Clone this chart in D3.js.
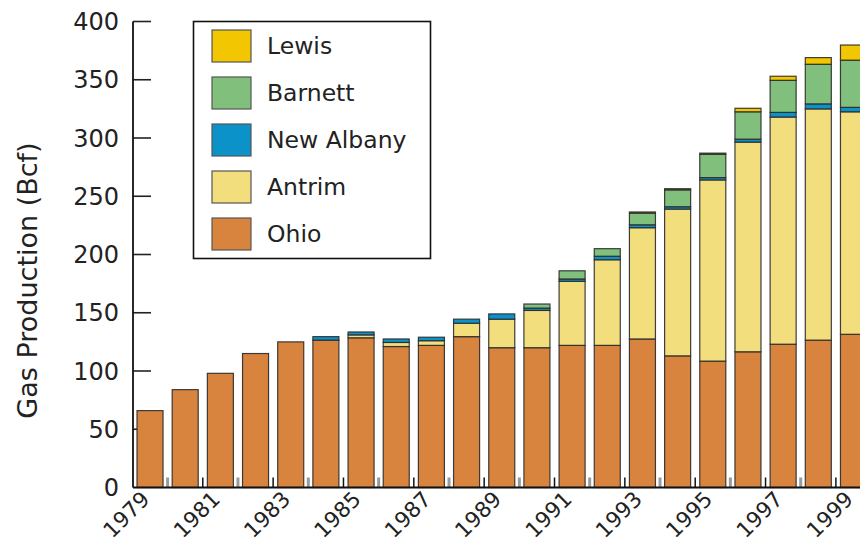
<!DOCTYPE html>
<html><head><meta charset="utf-8">
<script src="https://cdn.jsdelivr.net/npm/d3@7"></script>
<style>
html,body{margin:0;padding:0;background:#fff;}
svg{display:block;font-family:"DejaVu Sans",sans-serif;}
</style></head>
<body>
<svg id="chart" width="860" height="546"></svg>
<script>
const years = [1979,1980,1981,1982,1983,1984,1985,1986,1987,1988,1989,1990,1991,1992,1993,1994,1995,1996,1997,1998,1999];
const ohio      = [66, 84, 98, 115, 125, 126.5, 128.5, 121, 122, 129.5, 120, 120, 122, 122, 127.5, 113, 108.5, 116.5, 123, 126.5, 131.5];
const antrim    = [0, 0, 0, 0, 0, 0, 2.5, 3.5, 4, 11.5, 24.5, 32, 55, 73.5, 95.5, 126, 155.5, 180, 195, 198.5, 191];
const newAlbany = [0, 0, 0, 0, 0, 3, 2.5, 3, 3, 3.5, 4.5, 2, 2, 3, 2.5, 2, 2, 2.5, 4, 4.3, 3.8];
const barnett   = [0, 0, 0, 0, 0, 0, 0, 0, 0, 0, 0, 3.5, 7, 6.5, 10, 14.5, 20, 23.5, 27.5, 34, 40.5];
const lewis     = [0, 0, 0, 0, 0, 0, 0, 0, 0, 0, 0, 0, 0, 0, 1, 1, 1, 3, 3.5, 5.7, 13];
const seriesNames = ["Ohio","Antrim","New Albany","Barnett","Lewis"];
const seriesColors = ["#D8843F","#F3DE7E","#0B93C9","#80C07C","#F2C600"];
const yTicks = [0,50,100,150,200,250,300,350,400];
const xLabels = [1979,1981,1983,1985,1987,1989,1991,1993,1995,1997,1999];
const yTitle = "Gas Production (Bcf)";

const table = years.map((y,i)=>({year:y,"Ohio":ohio[i],"Antrim":antrim[i],"New Albany":newAlbany[i],"Barnett":barnett[i],"Lewis":lewis[i]}));
const stack = d3.stack().keys(seriesNames)(table);

const svg = d3.select("#chart");
const x0 = 133, yBase = 487.5, yTop = 21.5;
const x = d3.scaleBand().domain(years).range([x0, 870.5]).paddingInner(0.26).paddingOuter(0.114);
const y = d3.scaleLinear().domain([0,400]).range([yBase, yTop]);
const color = d3.scaleOrdinal().domain(seriesNames).range(seriesColors);

// y ticks (inward)
svg.append("g").selectAll("line").data(yTicks.filter(d=>d>0)).join("line")
  .attr("x1",x0).attr("x2",x0+18).attr("y1",d=>y(d)).attr("y2",d=>y(d))
  .attr("stroke","#222").attr("stroke-width",1.6);

// x ticks in gaps
const gaps = years.slice(0,-1).map((yr,i)=>({i, pos: x(yr)+x.bandwidth()+x.step()*x.paddingInner()/2}));
svg.append("g").selectAll("line").data(gaps).join("line")
  .attr("x1",d=>d.pos).attr("x2",d=>d.pos).attr("y1",yBase-10).attr("y2",yBase)
  .attr("stroke",d=>d.i%2===0?"#9a9a9a":"#111").attr("stroke-width",d=>d.i%2===0?3:1.5);

// bars
svg.append("g").selectAll("g").data(stack).join("g")
  .attr("fill",d=>color(d.key))
  .selectAll("rect").data(d=>d.filter(s=>s[1]-s[0]>0)).join("rect")
  .attr("x",d=>x(d.data.year)).attr("width",x.bandwidth())
  .attr("y",d=>y(d[1])).attr("height",d=>y(d[0])-y(d[1]))
  .attr("stroke","#2a2a2a").attr("stroke-opacity",0.9).attr("stroke-width",1.2);

// axes lines
svg.append("line").attr("x1",x0).attr("x2",x0).attr("y1",yTop).attr("y2",yBase).attr("stroke","#111").attr("stroke-width",1.8);
svg.append("line").attr("x1",x0).attr("x2",860).attr("y1",yBase).attr("y2",yBase).attr("stroke","#111").attr("stroke-width",1.8);

// y tick labels
svg.append("g").selectAll("text").data(yTicks).join("text")
  .attr("x",119).attr("y",d=>y(d)).attr("dy","0.36em").attr("text-anchor","end")
  .attr("font-size",24).attr("fill","#222").text(d=>d);

// x labels
svg.append("g").selectAll("text").data(xLabels).join("text")
  .attr("transform",d=>`translate(${x(d)+x.bandwidth()/2+1},${yBase+13}) rotate(-45)`)
  .attr("text-anchor","end").attr("font-size",21.5).attr("fill","#222").text(d=>d);

// y title
svg.append("text").attr("transform",`translate(37,${(yTop+yBase)/2+26}) rotate(-90)`)
  .attr("text-anchor","middle").attr("font-size",27).attr("fill","#222").text(yTitle);

// legend
const lg = svg.append("g");
lg.append("rect").attr("x",193.5).attr("y",21.5).attr("width",237).attr("height",237)
  .attr("fill","#fff").attr("stroke","#111").attr("stroke-width",1.6);
const legendOrder = seriesNames.slice().reverse();
const li = lg.selectAll("g").data(legendOrder).join("g")
  .attr("transform",(d,i)=>`translate(212,${30+i*47})`);
li.append("rect").attr("width",39).attr("height",32).attr("fill",d=>color(d))
  .attr("stroke","#555").attr("stroke-width",1.2);
li.append("text").attr("x",55).attr("y",16).attr("dy","0.36em").attr("font-size",23.5)
  .attr("fill","#222").text(d=>d);
</script>
</body></html>
